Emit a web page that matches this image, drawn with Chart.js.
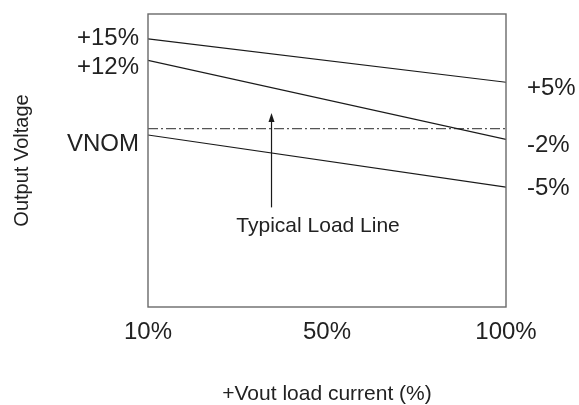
<!DOCTYPE html>
<html>
<head>
<meta charset="utf-8">
<script src="https://cdn.jsdelivr.net/npm/chart.js@4/dist/chart.umd.min.js"></script>
<style>
  html, body { margin: 0; padding: 0; background: #fff; }
  #wrap { width: 579px; height: 405px; }
</style>
</head>
<body>
<div id="wrap"><canvas id="chart" width="579" height="405"></canvas></div>
<script>
// x positions are tick indexes (10%, 50%, 100%), y is the schematic output level (0-100)
const tickLabels = ['10%', '50%', '100%'];
const lineX = [0, 2];

const highLine = [91.5, 76.7];   // +15% -> +5%
const midLine = [84.2, 57.2];    // +12% -> -2%
const lowLine = [58.7, 40.9];    // VNOM -> -5%
const vnomLevel = [60.9, 60.9];  // dash-dot nominal line

const leftLabels = ['+15%', '+12%', 'VNOM'];
const leftLabelLevels = [91.8, 81.7, 55.6];
const rightLabels = ['+5%', '-2%', '-5%'];
const rightLabelLevels = [74.7, 55.3, 40.6];

const arrowX = 0.69;
const arrowFrom = 34.0;
const arrowTo = 66.2;
const noteText = 'Typical Load Line';
const noteX = 0.95;
const noteY = 27.5;

const FONT = '"Liberation Sans", Arial, sans-serif';
const INK = '#222';

const toPoints = ys => ys.map((y, i) => ({ x: lineX[i], y }));

const lineSet = (data, extra) => Object.assign({
  data: toPoints(data),
  borderColor: '#1a1a1a',
  borderWidth: 1.2,
  pointRadius: 0,
  fill: false
}, extra || {});

const annotations = {
  id: 'annotations',
  afterDatasetsDraw(chart) {
    const { ctx, chartArea: a, scales: { x, y } } = chart;
    ctx.save();

    // plot frame
    ctx.strokeStyle = '#6a6a6a';
    ctx.lineWidth = 1.4;
    ctx.strokeRect(a.left, a.top, a.right - a.left, a.bottom - a.top);

    ctx.fillStyle = INK;
    ctx.textBaseline = 'middle';
    ctx.font = '24px ' + FONT;

    ctx.textAlign = 'right';
    leftLabels.forEach((t, i) => ctx.fillText(t, a.left - 9, y.getPixelForValue(leftLabelLevels[i])));
    ctx.textAlign = 'left';
    rightLabels.forEach((t, i) => ctx.fillText(t, a.right + 21, y.getPixelForValue(rightLabelLevels[i])));

    // arrow
    const ax = x.getPixelForValue(arrowX);
    const y0 = y.getPixelForValue(arrowFrom);
    const y1 = y.getPixelForValue(arrowTo);
    ctx.strokeStyle = '#1a1a1a';
    ctx.lineWidth = 1.2;
    ctx.beginPath();
    ctx.moveTo(ax, y0);
    ctx.lineTo(ax, y1 + 8);
    ctx.stroke();
    ctx.beginPath();
    ctx.moveTo(ax, y1);
    ctx.lineTo(ax - 3, y1 + 9);
    ctx.lineTo(ax + 3, y1 + 9);
    ctx.closePath();
    ctx.fillStyle = '#1a1a1a';
    ctx.fill();

    ctx.fillStyle = INK;
    ctx.textAlign = 'center';
    ctx.font = '21px ' + FONT;
    ctx.fillText(noteText, x.getPixelForValue(noteX), y.getPixelForValue(noteY));

    ctx.restore();
  }
};

new Chart(document.getElementById('chart'), {
  type: 'line',
  data: {
    datasets: [
      lineSet(highLine),
      lineSet(midLine),
      lineSet(lowLine),
      lineSet(vnomLevel, { borderColor: '#555', borderDash: [10, 3, 2, 3] })
    ]
  },
  options: {
    responsive: false,
    animation: false,
    layout: { padding: { top: 14, right: 73, left: 0, bottom: 0 } },
    plugins: { legend: { display: false }, tooltip: { enabled: false } },
    scales: {
      x: {
        type: 'linear',
        min: 0,
        max: 2,
        grid: { display: false, drawTicks: false },
        border: { display: false },
        ticks: {
          stepSize: 1,
          autoSkip: false,
          maxRotation: 0,
          padding: 11,
          color: INK,
          font: { family: FONT, size: 24 },
          callback: v => tickLabels[v]
        },
        title: {
          display: true,
          text: '+Vout load current (%)',
          color: INK,
          font: { family: FONT, size: 21, lineHeight: 1 },
          padding: 0
        },
        afterFit: s => { s.height = 98; }
      },
      y: {
        min: 0,
        max: 100,
        grid: { display: false, drawTicks: false },
        border: { display: false },
        ticks: { display: false },
        title: {
          display: true,
          text: 'Output Voltage',
          color: INK,
          font: { family: FONT, size: 20 },
          padding: { top: 10, bottom: 0 }
        },
        afterFit: s => { s.width = 148; }
      }
    }
  },
  plugins: [annotations]
});
</script>
</body>
</html>
